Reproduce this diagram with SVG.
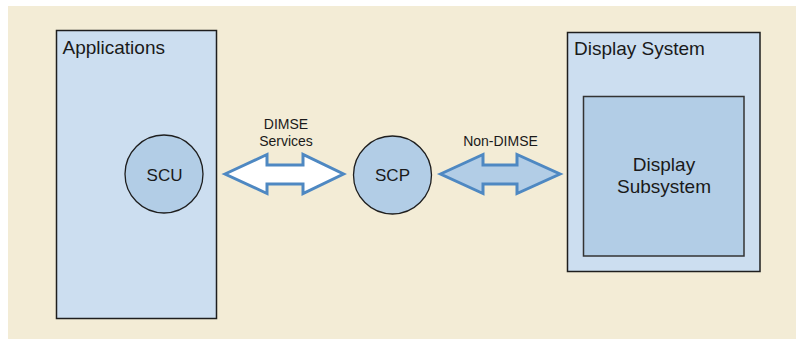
<svg xmlns="http://www.w3.org/2000/svg" width="796" height="339" viewBox="0 0 796 339">
<style>
.box{fill:#ccdef0;stroke:#1e1e1e;stroke-width:1.5}
.inner{fill:#b2cde6;stroke:#333;stroke-width:1.5}
.circ{fill:#b2cde6;stroke:#1e1e1e;stroke-width:1.3}
.arrow{stroke:#4e88c2;stroke-width:3;stroke-linejoin:miter}
text{font-family:"Liberation Sans",Arial,sans-serif;fill:#1a1a1a}
.t19{font-size:19px}
.t17{font-size:17px;text-anchor:middle}
.t13{font-size:14px;text-anchor:middle}
</style>
<rect x="0" y="0" width="796" height="339" fill="#ffffff"/>
<rect x="8" y="6" width="788" height="333" fill="#f3ecd6"/>
<g id="applications">
<rect class="box" x="56.5" y="30.5" width="160" height="288"/>
<text class="t19" x="62.5" y="53.5">Applications</text>
</g>
<g id="scu">
<circle class="circ" cx="164" cy="174" r="39"/>
<text class="t17" x="164.5" y="180.5">SCU</text>
</g>
<g id="scp">
<circle class="circ" cx="392.5" cy="175" r="39"/>
<text class="t17" x="392.5" y="180.5">SCP</text>
</g>
<g id="display-system">
<rect class="box" x="567.5" y="32.5" width="192.5" height="239"/>
<text class="t19" x="574" y="55">Display System</text>
</g>
<g id="display-subsystem">
<rect class="inner" x="583.5" y="96.5" width="160.5" height="159.5"/>
<text class="t19" x="664" y="170.5" text-anchor="middle">Display</text>
<text class="t19" x="664" y="193" text-anchor="middle">Subsystem</text>
</g>
<g id="connectors">
<path class="arrow" fill="#ffffff" d="M225,174 L267,154.5 L267,165 L303,165 L303,154.5 L343.5,174 L303,193.5 L303,184 L267,184 L267,193.5 Z"/>
<text class="t13" x="286" y="128.5">DIMSE</text>
<text class="t13" x="286" y="145.5">Services</text>
<path class="arrow" fill="#b2cde6" d="M440.5,174 L483,154.5 L483,165 L517,165 L517,154.5 L560,174 L517,193.5 L517,184 L483,184 L483,193.5 Z"/>
<text class="t13" x="500.5" y="145.5">Non-DIMSE</text>
</g>
</svg>
